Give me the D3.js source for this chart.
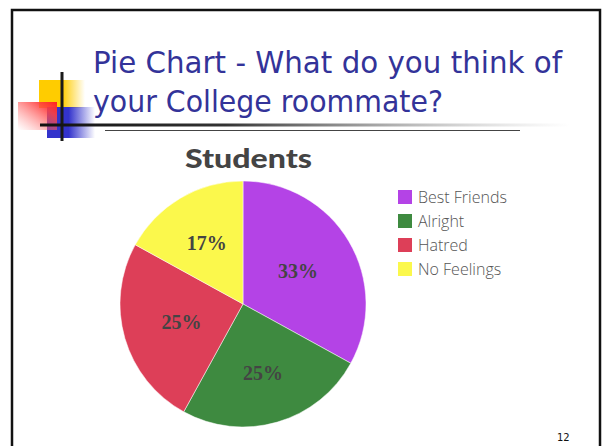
<!DOCTYPE html>
<html>
<head>
<meta charset="utf-8">
<script src="https://cdn.jsdelivr.net/npm/d3@7"></script>
<style>
  html, body { margin: 0; padding: 0; background: #fff; }
  svg { display: block; }
</style>
</head>
<body>
<script>
// Survey: what students think of their college roommate
const categories = ["Best Friends", "Alright", "Hatred", "No Feelings"];
const values = [33, 25, 25, 17];
const sliceLabels = ["33%", "25%", "25%", "17%"];
const colors = ["#b443e6", "#3e8a40", "#dd3f58", "#fbf84c"];

const W = 602, H = 446;
const svg = d3.select("body").append("svg").attr("width", W).attr("height", H);
const defs = svg.append("defs");

// Slide frame
svg.append("rect").attr("x", 12).attr("y", 10).attr("width", 588).attr("height", 450)
  .attr("fill", "#fff").attr("stroke", "#111").attr("stroke-width", 2.5);

// Decorative bullet blocks
function grad(id, x1, y1, x2, y2, stops) {
  const g = defs.append("linearGradient").attr("id", id)
    .attr("x1", x1).attr("y1", y1).attr("x2", x2).attr("y2", y2);
  stops.forEach(s => g.append("stop").attr("offset", s[0]).attr("stop-color", s[1]).attr("stop-opacity", s[2]));
}
grad("gYellow", 0, 0, 1, 0, [[0, "#ffcc00", 1], [0.5, "#ffcc00", 1], [1, "#ffcc00", 0]]);
grad("gBlue", 0, 0, 1, 0, [[0, "#3333cc", 1], [0.45, "#3333cc", 1], [1, "#3333cc", 0]]);
grad("gRed", 1, 0, 0, 1, [[0, "#ff2020", 1], [0.25, "#ff4040", 0.9], [1, "#ff8080", 0]]);
grad("gRule", 0, 0, 1, 0, [[0, "#111", 1], [0.35, "#333", 1], [1, "#999", 0]]);

svg.append("rect").attr("x", 39).attr("y", 80).attr("width", 46).attr("height", 28).attr("fill", "url(#gYellow)");
svg.append("rect").attr("x", 47).attr("y", 107).attr("width", 48).attr("height", 31).attr("fill", "url(#gBlue)");
svg.append("rect").attr("x", 18).attr("y", 102).attr("width", 39).attr("height", 28).attr("fill", "url(#gRed)");
svg.append("rect").attr("x", 60.5).attr("y", 72).attr("width", 3).attr("height", 69).attr("fill", "#1a1a1a");
svg.append("rect").attr("x", 40).attr("y", 123.5).attr("width", 530).attr("height", 3).attr("fill", "url(#gRule)");
svg.append("line").attr("x1", 105).attr("x2", 520).attr("y1", 130.5).attr("y2", 130.5)
  .attr("stroke", "#444").attr("stroke-width", 1.2);

// Slide title
const titleLines = ["Pie Chart - What do you think of", "your College roommate?"];
const titleRight = [562, 443];
titleLines.forEach((t, i) => {
  svg.append("text").attr("x", 93).attr("y", 73 + i * 39)
    .attr("font-family", "DejaVu Sans, Verdana, sans-serif").attr("font-size", 31)
    .attr("fill", "#333399").attr("textLength", titleRight[i] - 93).attr("lengthAdjust", "spacingAndGlyphs")
    .text(t);
});

// Pie title
svg.append("text").attr("x", 185).attr("y", 168)
  .attr("font-family", "Lato, 'Open Sans', sans-serif").attr("font-weight", 900).attr("font-size", 27)
  .attr("fill", "#444").attr("textLength", 127).attr("lengthAdjust", "spacingAndGlyphs")
  .text("Students");

// Pie
const cx = 243, cy = 304, r = 123;
const pie = d3.pie().sort(null).value(d => d)(values);
const arc = d3.arc().innerRadius(0).outerRadius(r);
const g = svg.append("g").attr("transform", `translate(${cx},${cy})`);
g.selectAll("path").data(pie).join("path")
  .attr("d", arc).attr("fill", (d, i) => colors[i])
  .attr("stroke", "#fff").attr("stroke-width", 0.5);

// Slice labels, placed along each slice's bisector
const labelRadius = [0.52, 0.58, 0.52, 0.58];
g.selectAll("text.pct").data(pie).join("text").attr("class", "pct")
  .attr("transform", (d, i) => {
    const c = d3.arc().innerRadius(r * labelRadius[i]).outerRadius(r * labelRadius[i]).centroid(d);
    return `translate(${c[0]},${c[1]})`;
  })
  .attr("text-anchor", "middle").attr("dy", "0.35em")
  .attr("font-family", "'Liberation Serif', 'Times New Roman', serif").attr("font-weight", "bold")
  .attr("font-size", 20).attr("fill", "#444")
  .text((d, i) => sliceLabels[i]);

// Legend
const lg = svg.append("g").attr("transform", "translate(398,190)");
const rows = lg.selectAll("g").data(categories).join("g")
  .attr("transform", (d, i) => `translate(0,${i * 24})`);
rows.append("rect").attr("width", 14).attr("height", 14).attr("fill", (d, i) => colors[i]);
rows.append("text").attr("x", 20).attr("y", 7).attr("dy", "0.36em")
  .attr("font-family", "'Open Sans', 'Noto Sans', sans-serif").attr("font-weight", 300)
  .attr("font-size", 16).attr("fill", "#555").text(d => d);

// Page number
svg.append("text").attr("x", 557).attr("y", 441)
  .attr("font-family", "DejaVu Sans, Verdana, sans-serif").attr("font-size", 10).attr("fill", "#111")
  .text("12");
</script>
</body>
</html>
